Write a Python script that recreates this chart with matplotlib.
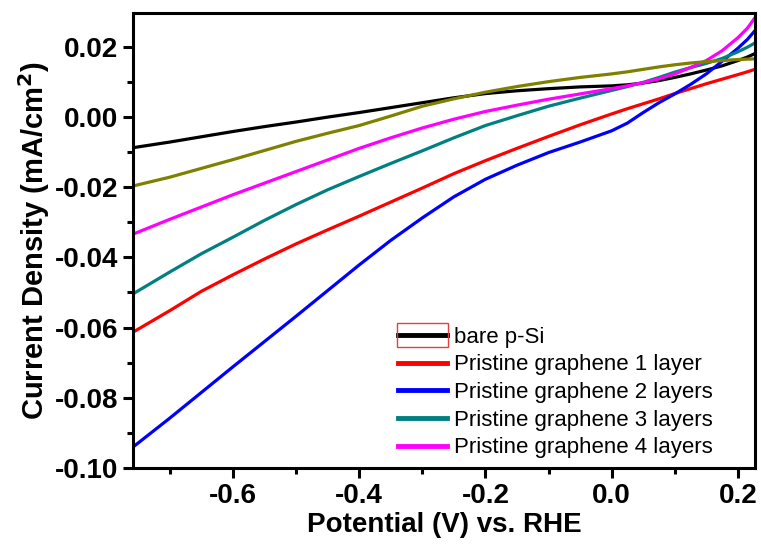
import numpy as np
import matplotlib
matplotlib.use("Agg")
import matplotlib.pyplot as plt
from matplotlib.patches import Rectangle
from matplotlib.ticker import MultipleLocator

plt.rcParams['font.family'] = ['Liberation Sans', 'DejaVu Sans']

# Potential (V) vs. RHE
potential = [-0.758, -0.7, -0.65, -0.6, -0.55, -0.5, -0.45, -0.4, -0.35, -0.3, -0.25, -0.2, -0.15,
             -0.1, -0.05, 0.0, 0.025, 0.05, 0.075, 0.1, 0.125, 0.15, 0.175, 0.2, 0.215, 0.227]

# Current density (mA/cm2)
bare_si = [-0.0088, -0.0072, -0.0057, -0.0042, -0.0028, -0.0015, -0.0001, 0.0012, 0.0026, 0.0040, 0.0054, 0.0066, 0.0074,
           0.0080, 0.0085, 0.0088, 0.0091, 0.0096, 0.0103, 0.0112, 0.0122, 0.0133, 0.0145, 0.0160, 0.0170, 0.0180]
layer1 = [-0.0613, -0.0552, -0.0497, -0.0450, -0.0405, -0.0362, -0.0322, -0.0283, -0.0243, -0.0203, -0.0162, -0.0125, -0.0090,
          -0.0056, -0.0023, 0.0008, 0.0023, 0.0037, 0.0051, 0.0066, 0.0080, 0.0094, 0.0107, 0.0120, 0.0128, 0.0135]
layer2 = [-0.0940, -0.0858, -0.0785, -0.0712, -0.0640, -0.0568, -0.0495, -0.0422, -0.0352, -0.0288, -0.0228, -0.0178, -0.0138,
          -0.0102, -0.0072, -0.0040, -0.0018, 0.0012, 0.0040, 0.0065, 0.0092, 0.0122, 0.0158, 0.0195, 0.0220, 0.0245]
layer3 = [-0.0504, -0.0442, -0.0390, -0.0343, -0.0295, -0.0250, -0.0208, -0.0170, -0.0133, -0.0097, -0.0060, -0.0025, 0.0003,
          0.0030, 0.0053, 0.0075, 0.0086, 0.0098, 0.0112, 0.0127, 0.0140, 0.0152, 0.0166, 0.0185, 0.0198, 0.0210]
layer4 = [-0.0334, -0.0292, -0.0257, -0.0222, -0.0189, -0.0156, -0.0123, -0.0090, -0.0060, -0.0032, -0.0007, 0.0015, 0.0033,
          0.0050, 0.0065, 0.0080, 0.0088, 0.0097, 0.0108, 0.0122, 0.0140, 0.0160, 0.0188, 0.0225, 0.0252, 0.0282]
unlabelled = [-0.0197, -0.0172, -0.0147, -0.0122, -0.0096, -0.0070, -0.0047, -0.0025, 0.0002, 0.0030, 0.0051, 0.0070, 0.0086,
              0.0100, 0.0112, 0.0122, 0.0128, 0.0135, 0.0142, 0.0148, 0.0153, 0.0157, 0.0160, 0.0163, 0.0164, 0.0165]

series = [
    (bare_si, "black", "bare p-Si"),
    (layer1, "#ff0000", "Pristine graphene 1 layer"),
    (layer2, "#0000ff", "Pristine graphene 2 layers"),
    (layer3, "#008080", "Pristine graphene 3 layers"),
    (layer4, "#ff00ff", "Pristine graphene 4 layers"),
    (unlabelled, "#808000", "_nolegend_"),
]

fig = plt.figure(figsize=(7.61, 5.48), dpi=100)
ax = fig.add_axes([0.175, 0.146, 0.817, 0.830])

for values, colour, label in series:
    ax.plot(potential, values, color=colour, lw=2.3, label=label)

ax.set_xlim(-0.758, 0.227)
ax.set_ylim(-0.10, 0.0295)
ax.xaxis.set_major_locator(MultipleLocator(0.2))
ax.xaxis.set_minor_locator(MultipleLocator(0.1))
ax.yaxis.set_major_locator(MultipleLocator(0.02))
ax.yaxis.set_minor_locator(MultipleLocator(0.01))
ax.xaxis.set_major_formatter(lambda v, p: f"{v:.1f}".replace("-0.0", "0.0"))
ax.yaxis.set_major_formatter(lambda v, p: f"{v:.2f}".replace("-0.00", "0.00"))

for spine in ax.spines.values():
    spine.set_linewidth(2.2)
ax.tick_params(which="major", direction="out", length=7, width=2.2, labelsize=20, pad=4)
ax.tick_params(which="minor", direction="out", length=4, width=2.2)
for lbl in ax.get_xticklabels() + ax.get_yticklabels():
    lbl.set_fontweight("bold")

ax.set_xlabel("Potential (V) vs. RHE", fontsize=20, fontweight="bold", labelpad=2)
ax.set_ylabel("Current Density (mA/cm$^\\mathbf{2}$)", fontsize=21, fontweight="bold", labelpad=2)

leg = ax.legend(loc="upper left", bbox_to_anchor=(0.408, 0.335), frameon=False,
                fontsize=16, handlelength=2.2, handletextpad=0.3,
                labelspacing=0.3, borderpad=0)
for line in leg.get_lines():
    line.set_linewidth(3.5)

# red box around the first legend handle
fig.canvas.draw()
bb = leg.get_lines()[0].get_window_extent(fig.canvas.get_renderer())
inv = fig.transFigure.inverted()
(x0, y0), (x1, y1) = inv.transform([(bb.x0 - 1, bb.y0 - 12), (bb.x1 + 1, bb.y1 + 12)])
fig.patches.append(Rectangle((x0, y0), x1 - x0, y1 - y0, transform=fig.transFigure,
                             fill=False, edgecolor="#e04040", lw=1))

fig.savefig("out.png", dpi=100)
